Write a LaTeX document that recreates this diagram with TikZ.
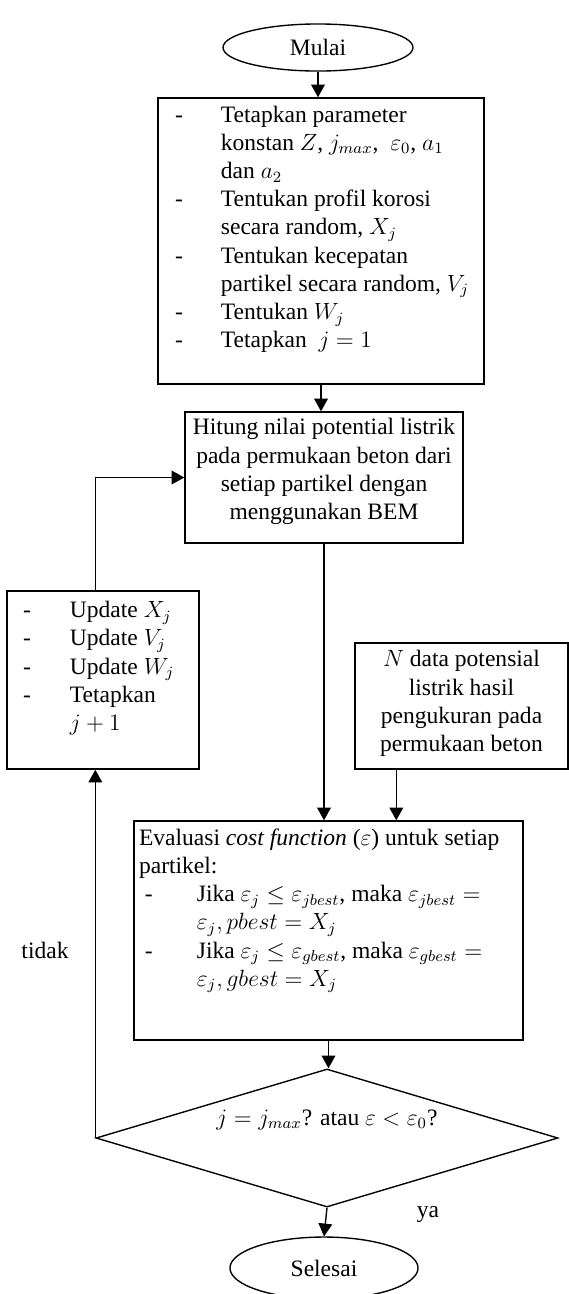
\documentclass[tikz,border=0pt]{standalone}
\usepackage{fontspec}
\setmainfont{Liberation Serif}
\usetikzlibrary{shapes.geometric,arrows.meta,positioning}

\newcommand{\isi}[4]{\parbox[c][#2][t]{#1}{\vspace*{#3}#4}}

\tikzset{
 terminal/.style={draw, ellipse, line width=0.7pt, inner sep=0pt},
 proses/.style={draw, rectangle, line width=0.7pt, inner sep=0pt},
 keputusan/.style={draw, diamond, line width=0.7pt, inner sep=0pt, aspect=3.35,
   minimum width=235.6pt, minimum height=70.4pt, text height=9pt, text depth=22pt},
 panah/.style={-{Triangle[length=6.5pt,width=7pt]}, line width=0.7pt},
}

\begin{document}
\begin{tikzpicture}[x=0.51pt,y=-0.51pt,every node/.style={font=\fontsize{12}{14.4}\selectfont}]
 \useasboundingbox (0,0) rectangle (569,1294);

 \node[terminal,minimum width=96.9pt,minimum height=24pt] (mulai) at (318,47.5) {Mulai};

 \node[proses] (tetap) at (321,241) {\isi{166.3pt}{145.9pt}{2.2pt}{%
  \begin{tabular}{@{\hspace{8.7pt}}p{23.4pt}@{}l@{}}
  - & Tetapkan parameter\\
    & konstan $Z$, $j_{max}$,~ $\varepsilon_0$, $a_1$\\
    & dan $a_2$\\
  - & Tentukan profil korosi\\
    & secara random, $X_j$\\
  - & Tentukan kecepatan\\
    & partikel secara random, $V_j$\\
  - & Tentukan $W_j$\\
  - & Tetapkan ~$j=1$
  \end{tabular}}};

 \node[proses] (hitung) at (324,477.5) {\isi{141.8pt}{66.8pt}{1.6pt}{\centering
  \begin{tabular}{@{}c@{}}
  Hitung nilai potential listrik\\
  pada permukaan beton dari\\
  setiap partikel dengan\\
  menggunakan BEM
  \end{tabular}}};

 \node[proses] (update) at (103,680) {\isi{97.9pt}{90.8pt}{3.5pt}{%
  \begin{tabular}{@{\hspace{8.2pt}}p{23.9pt}@{}l@{}}
  - & Update $X_j$\\
  - & Update $V_j$\\
  - & Update $W_j$\\
  - & Tetapkan\\
    & $j+1$
  \end{tabular}}};

 \node[proses] (data) at (461.5,706) {\isi{108.6pt}{64.3pt}{2.1pt}{\centering
  \begin{tabular}{@{}c@{}}
  $N$ data potensial\\
  listrik hasil\\
  pengukuran pada\\
  permukaan beton
  \end{tabular}}};

 \node[proses] (evaluasi) at (328.5,930.5) {\isi{198.4pt}{111.7pt}{2.2pt}{%
  \begin{tabular}{@{\hspace{2.6pt}}p{29.5pt}@{}l@{}}
  \multicolumn{2}{@{\hspace{2.6pt}}l@{}}{Evaluasi \textit{cost function} ($\varepsilon$) untuk setiap}\\
  \multicolumn{2}{@{\hspace{2.6pt}}l@{}}{partikel:}\\
  \hspace{3pt}- & Jika $\varepsilon_j \le \varepsilon_{jbest}$, maka $\varepsilon_{jbest} =$\\
    & $\varepsilon_j, pbest = X_j$\\
  \hspace{3pt}- & Jika $\varepsilon_j \le \varepsilon_{gbest}$, maka $\varepsilon_{gbest} =$\\
    & $\varepsilon_j, gbest = X_j$
  \end{tabular}}};

 \node[keputusan] (cek) at (327,1138) {$j = j_{max}$? atau $\varepsilon < \varepsilon_0$?};

 \node[terminal,minimum width=95.9pt,minimum height=31.6pt] (selesai) at (324,1268) {Selesai};

 \node (tidak) at (45,950) {tidak};
 \node (ya) at (428,1215) {ya};

 % alur utama
 \draw[panah] (mulai.south) -- (mulai.south |- tetap.north);
 \draw[panah] (tetap.south) -- (tetap.south |- hitung.north);
 \draw[panah] (hitung.south) -- (hitung.south |- evaluasi.north);
 \draw[panah] ([xshift=21.4pt]data.south west) -- ([xshift=21.4pt]data.south west |- evaluasi.north);
 \draw[panah] (evaluasi.south) -- (evaluasi.south |- cek.north);
 \draw[panah] (cek.south) -- (selesai.north);

 % putaran balik
 \draw[panah] (cek.west) -- (cek.west |- update.south);
 \draw[panah] (cek.west |- update.north) |- (hitung.west);
\end{tikzpicture}
\end{document}
